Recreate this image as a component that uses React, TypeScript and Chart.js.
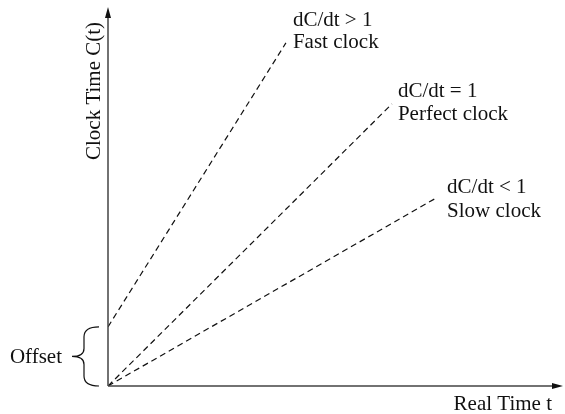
import React, { useEffect, useRef } from "react";
import { Chart, registerables } from "chart.js";

Chart.register(...registerables);

// Data (arbitrary equal units on both axes)
const realTimeFast = [0, 3.91];
const clockFast = [1.3, 7.54];
const realTimePerfect = [0, 6.24];
const clockPerfect = [0, 6.2];
const realTimeSlow = [0, 7.21];
const clockSlow = [0, 4.13];
const rateLabels = ["dC/dt > 1", "dC/dt = 1", "dC/dt < 1"];
const clockLabels = ["Fast clock", "Perfect clock", "Slow clock"];
const xAxisTitle = "Real Time t";
const yAxisTitle = "Clock Time C(t)";
const offsetLabel = "Offset";

const FONT = '21px "Liberation Serif", "Times New Roman", serif';

const toPoints = (xs: number[], ys: number[]) => xs.map((x, i) => ({ x, y: ys[i] }));

export default function App() {
  const ref = useRef<HTMLCanvasElement | null>(null);

  useEffect(() => {
    if (!ref.current) return;
    const labelOffsets = [
      [7, -17, 5],
      [6, -7, 16],
      [11, -5, 19],
    ];
    const overlay = {
      id: "overlay",
      afterDraw(chart: any) {
        const ctx = chart.ctx as CanvasRenderingContext2D;
        const { left, right, top, bottom } = chart.chartArea;
        const xs = chart.scales.x;
        const ys = chart.scales.y;
        ctx.save();
        // axes
        ctx.strokeStyle = "#444";
        ctx.lineWidth = 1.5;
        ctx.beginPath();
        ctx.moveTo(left, bottom);
        ctx.lineTo(left, top + 6);
        ctx.moveTo(left, bottom);
        ctx.lineTo(right - 6, bottom);
        ctx.stroke();
        ctx.fillStyle = "#111";
        ctx.beginPath();
        ctx.moveTo(left, top);
        ctx.lineTo(left - 3, top + 11);
        ctx.lineTo(left + 3, top + 11);
        ctx.closePath();
        ctx.fill();
        ctx.beginPath();
        ctx.moveTo(right, bottom);
        ctx.lineTo(right - 11, bottom - 3);
        ctx.lineTo(right - 11, bottom + 3);
        ctx.closePath();
        ctx.fill();

        // labels at line ends
        ctx.font = FONT;
        ctx.fillStyle = "#111";
        ctx.textAlign = "left";
        ctx.textBaseline = "alphabetic";
        const ends = [
          [realTimeFast[1], clockFast[1]],
          [realTimePerfect[1], clockPerfect[1]],
          [realTimeSlow[1], clockSlow[1]],
        ];
        ends.forEach((e, i) => {
          const px = xs.getPixelForValue(e[0]);
          const py = ys.getPixelForValue(e[1]);
          const o = labelOffsets[i];
          ctx.fillText(rateLabels[i], px + o[0], py + o[1]);
          ctx.fillText(clockLabels[i], px + o[0], py + o[2]);
        });

        // axis titles
        ctx.textAlign = "right";
        ctx.fillText(xAxisTitle, 552, bottom + 24);
        ctx.save();
        ctx.translate(left - 8, top + 84);
        ctx.rotate(-Math.PI / 2);
        ctx.textAlign = "center";
        ctx.fillText(yAxisTitle, 0, 0);
        ctx.restore();

        // offset brace
        const y0 = ys.getPixelForValue(clockFast[0]);
        const y1 = ys.getPixelForValue(0);
        const ym = (y0 + y1) / 2;
        const xr = left - 9;
        const xm = left - 24;
        const xt = left - 36;
        ctx.strokeStyle = "#111";
        ctx.lineWidth = 1.2;
        ctx.beginPath();
        ctx.moveTo(xr, y0);
        ctx.quadraticCurveTo(xm, y0, xm, y0 + 10);
        ctx.lineTo(xm, ym - 8);
        ctx.quadraticCurveTo(xm, ym, xt, ym);
        ctx.quadraticCurveTo(xm, ym, xm, ym + 8);
        ctx.lineTo(xm, y1 - 10);
        ctx.quadraticCurveTo(xm, y1, xr, y1);
        ctx.stroke();
        ctx.textAlign = "right";
        ctx.fillText(offsetLabel, xt - 10, ym + 7);
        ctx.restore();
      },
    };

    const ds = (xs: number[], ys: number[]) => ({
      data: toPoints(xs, ys),
      showLine: true,
      borderColor: "#111",
      borderWidth: 1.2,
      borderDash: [6, 4],
      pointRadius: 0,
      fill: false,
    });

    const chart = new Chart(ref.current, {
      type: "scatter",
      data: {
        datasets: [
          ds(realTimeFast, clockFast),
          ds(realTimePerfect, clockPerfect),
          ds(realTimeSlow, clockSlow),
        ],
      },
      options: {
        responsive: false,
        animation: false,
        layout: { padding: { left: 108, right: 2, top: 7, bottom: 28 } },
        plugins: { legend: { display: false }, tooltip: { enabled: false } },
        scales: {
          x: { type: "linear", min: 0, max: 10, display: false },
          y: { type: "linear", min: 0, max: 8.33, display: false },
        },
      },
      plugins: [overlay],
    });
    return () => chart.destroy();
  }, []);

  return (
    <div style={{ position: "fixed", left: 0, top: 0, width: 565, height: 414, background: "#fff" }}>
      <canvas ref={ref} width={565} height={414} style={{ width: 565, height: 414 }} />
    </div>
  );
}
